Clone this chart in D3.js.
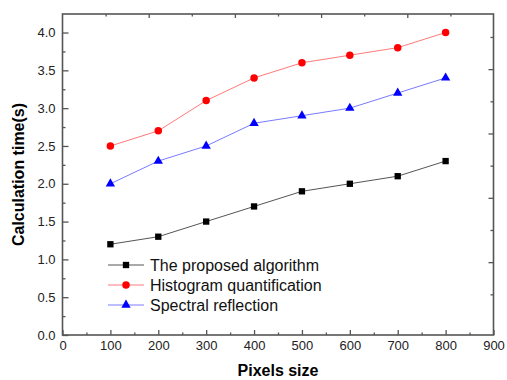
<!DOCTYPE html>
<html>
<head>
<meta charset="utf-8">
<script src="https://cdn.jsdelivr.net/npm/d3@7"></script>
<style>
  body { margin: 0; background: #fff; }
  svg { display: block; font-family: "Liberation Sans", Arial, sans-serif; }
</style>
</head>
<body>
<div id="chart"></div>
<script>
var pixelSizes = [100, 200, 300, 400, 500, 600, 700, 800];
var proposed = [1.2, 1.3, 1.5, 1.7, 1.9, 2.0, 2.1, 2.3];
var histogram = [2.5, 2.7, 3.1, 3.4, 3.6, 3.7, 3.8, 4.0];
var spectral = [2.0, 2.3, 2.5, 2.8, 2.9, 3.0, 3.2, 3.4];
var seriesNames = ["The proposed algorithm", "Histogram quantification", "Spectral reflection"];
var xTicks = [0, 100, 200, 300, 400, 500, 600, 700, 800, 900];
var yTicks = [0, 0.5, 1.0, 1.5, 2.0, 2.5, 3.0, 3.5, 4.0];

var W = 507, H = 380,
    margin = {top: 14, right: 13.5, bottom: 45, left: 62.5},
    width = W - margin.left - margin.right,
    height = H - margin.top - margin.bottom;

var svg = d3.select("#chart").append("svg")
    .attr("width", W)
    .attr("height", H);

var g = svg.append("g")
    .attr("transform", "translate(" + margin.left + "," + margin.top + ")");

var x = d3.scaleLinear().domain([0, 900]).range([0, width]);
var y = d3.scaleLinear().domain([0, 4.245]).range([height, 0]);

// the mirrored top/right axes in the original are not aligned with the data scales
var xTop = d3.scaleLinear().domain([0, 10]).range([0, width]);
var yRight = d3.scaleLinear().domain([0, 10]).range([312.5, -9.2]);

var axisColor = "#555";

function styleAxis(sel, fontSize) {
    sel.select(".domain").remove();
    sel.selectAll("line").style("stroke", axisColor).style("stroke-width", "1.3px");
    sel.selectAll("text")
        .style("font-size", fontSize + "px")
        .style("fill", "#222")
        .style("font-family", "'Liberation Sans', Arial, sans-serif");
}

// bottom
g.append("g").attr("transform", "translate(0," + height + ")")
    .call(d3.axisBottom(x).tickValues(xTicks).tickSizeInner(-5).tickSizeOuter(0)
        .tickPadding(6).tickFormat(d3.format("d")))
    .call(styleAxis, 13);
g.append("g").attr("transform", "translate(0," + height + ")")
    .call(d3.axisBottom(x).tickValues(d3.range(50, 900, 100)).tickSize(-2.5).tickFormat(""))
    .call(styleAxis, 13);

// left
g.append("g")
    .call(d3.axisLeft(y).tickValues(yTicks).tickSizeInner(-6).tickSizeOuter(0)
        .tickPadding(7).tickFormat(d3.format(".1f")))
    .call(styleAxis, 13);
g.append("g")
    .call(d3.axisLeft(y).tickValues(d3.range(0.25, 4.2, 0.5)).tickSize(-3).tickFormat(""))
    .call(styleAxis, 13);

// top
g.append("g")
    .call(d3.axisTop(xTop).tickValues([2, 4, 6, 8]).tickSize(-4).tickFormat(""))
    .call(styleAxis, 13);
g.append("g")
    .call(d3.axisTop(xTop).tickValues([1, 3, 5, 7, 9]).tickSize(-2.5).tickFormat(""))
    .call(styleAxis, 13);

// right
g.append("g").attr("transform", "translate(" + width + ",0)")
    .call(d3.axisRight(yRight).tickValues([2, 4, 6, 8]).tickSize(-5).tickFormat(""))
    .call(styleAxis, 13);
g.append("g").attr("transform", "translate(" + width + ",0)")
    .call(d3.axisRight(yRight).tickValues([1, 3, 5, 7, 9]).tickSize(-3).tickFormat(""))
    .call(styleAxis, 13);

// frame
g.append("rect")
    .attr("width", width)
    .attr("height", height)
    .style("fill", "none")
    .style("stroke", axisColor)
    .style("stroke-width", "1.6px");

var series = [
    {name: seriesNames[0], values: proposed, line: "#555", fill: "#000", symbol: d3.symbolSquare, size: 40},
    {name: seriesNames[1], values: histogram, line: "#ff7a7a", fill: "#ff0000", symbol: d3.symbolCircle, size: 44},
    {name: seriesNames[2], values: spectral, line: "#7a7aff", fill: "#0000ff", symbol: d3.symbolTriangle, size: 38}
];

var line = d3.line()
    .x(function(d, i) { return x(pixelSizes[i]); })
    .y(function(d) { return y(d); });

series.forEach(function(s) {
    g.append("path")
        .datum(s.values)
        .attr("d", line)
        .style("fill", "none")
        .style("stroke", s.line)
        .style("stroke-width", "1px");

    g.selectAll(null)
        .data(s.values)
        .enter().append("path")
        .attr("d", d3.symbol().type(s.symbol).size(s.size))
        .attr("transform", function(d, i) {
            return "translate(" + x(pixelSizes[i]) + "," + y(d) + ")";
        })
        .style("fill", s.fill);
});

// legend
var legend = svg.append("g").attr("transform", "translate(108,265)");
var item = legend.selectAll(".item")
    .data(series)
    .enter().append("g")
    .attr("class", "item")
    .attr("transform", function(d, i) { return "translate(0," + (i * 20) + ")"; });

item.append("line")
    .attr("x1", 0).attr("x2", 36)
    .style("stroke", function(d) { return d.line; })
    .style("stroke-width", "1px");

item.append("path")
    .attr("d", function(d) { return d3.symbol().type(d.symbol).size(d.size)(); })
    .attr("transform", "translate(18,0)")
    .style("fill", function(d) { return d.fill; });

item.append("text")
    .attr("x", 42)
    .attr("dy", "0.36em")
    .style("font-size", "16px")
    .style("fill", "#111")
    .text(function(d) { return d.name; });

// axis titles
svg.append("text")
    .attr("transform", "translate(18," + (margin.top + height / 2) + ") rotate(-90)")
    .attr("text-anchor", "middle")
    .attr("dy", "0.36em")
    .style("font-size", "16px")
    .style("font-weight", "bold")
    .text("Calculation time(s)");

svg.append("text")
    .attr("x", margin.left + width / 2)
    .attr("y", 376)
    .attr("text-anchor", "middle")
    .style("font-size", "16px")
    .style("font-weight", "bold")
    .text("Pixels size");
</script>
</body>
</html>
